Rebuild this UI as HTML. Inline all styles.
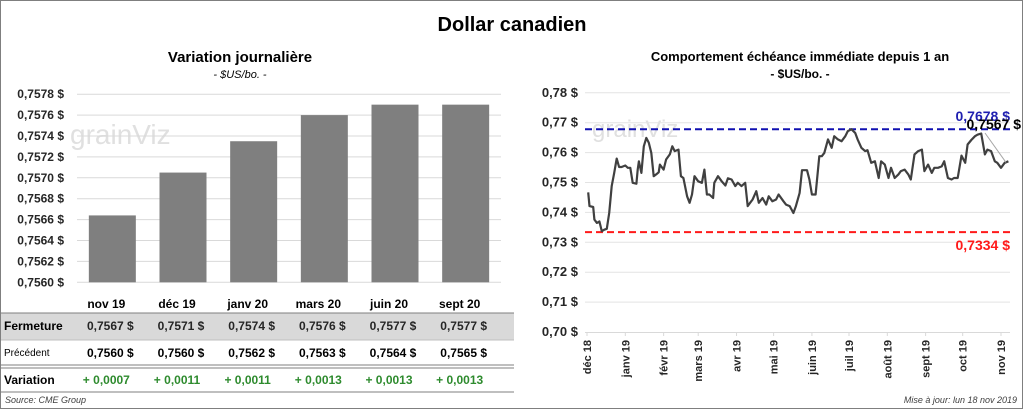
<!DOCTYPE html>
<html><head><meta charset="utf-8"><style>
body{margin:0;background:#fff;font-family:"Liberation Sans",sans-serif}
#wrap{position:relative;width:1024px;height:410px;overflow:hidden}
svg text{font-family:"Liberation Sans",sans-serif}
</style></head><body>
<div id="wrap">
<svg id="svg" width="1024" height="410" viewBox="0 0 1024 410">
<rect x="0.5" y="0.5" width="1022" height="408" fill="#fff" stroke="#7f7f7f"/>
<text x="512" y="31" text-anchor="middle" font-size="20" font-weight="bold" fill="#000">Dollar canadien</text>
<text x="240" y="62" text-anchor="middle" font-size="15" font-weight="bold">Variation  journalière</text>
<text x="240" y="78" text-anchor="middle" font-size="11" font-style="italic">- $US/bo. -</text>
<text x="800" y="61" text-anchor="middle" font-size="13" font-weight="bold">Comportement échéance immédiate depuis 1 an</text>
<text x="800" y="78" text-anchor="middle" font-size="12" font-weight="bold">- $US/bo. -</text>
<text x="70" y="144" font-size="28" fill="#e0e0e0">grainViz</text>
<text x="592" y="137" font-size="24" fill="#e0e0e0">grainViz</text>
<g id="left"></g>
<g id="table"></g>
<g id="right"></g>
<text x="5" y="403" font-size="9" font-style="italic" fill="#404040">Source: CME Group</text>
<text x="1017" y="403" text-anchor="end" font-size="9" font-style="italic" fill="#404040">Mise à jour: lun 18 nov 2019</text>
</svg>
</div>
<script>
const barCats=["nov 19","déc 19","janv 20","mars 20","juin 20","sept 20"];
const barVals=[0.75664,0.75705,0.75735,0.75760,0.75770,0.75770];
const barTicks=[0.7560,0.7562,0.7564,0.7566,0.7568,0.7570,0.7572,0.7574,0.7576,0.7578];
const closeVals=["0,7567","0,7571","0,7574","0,7576","0,7577","0,7577"];
const prevVals=["0,7560","0,7560","0,7562","0,7563","0,7564","0,7565"];
const varVals=["+ 0,0007","+ 0,0011","+ 0,0011","+ 0,0013","+ 0,0013","+ 0,0013"];
const lineDays=[1,2,5,6,8,10,12,14,16,18,20,22,24,26,28,31,33,35,37,40,41,42,44,46,48,50,52,54,56,58,59,62,64,67,69,71,74,76,78,81,83,85,87,90,93,95,97,99,102,103,106,109,112,114,117,120,122,125,128,130,132,134,137,139,142,145,147,150,153,155,159,161,164,167,169,172,174,178,180,182,185,188,190,192,195,198,200,203,206,209,211,214,217,219,222,225,227,230,233,236,238,241,244,246,249,252,254,257,260,262,265,268,271,273,276,279,281,284,287,289,292,295,297,300,303,306,308,311,314,316,319,322,324,327,330,332,335,338,341];
const lineVals=[.7467,.7421,.7418,.7376,.7365,.7370,.7337,.7342,.7345,.7398,.7488,.7532,.7580,.7552,.7552,.7557,.7549,.7549,.7499,.7496,.7543,.7571,.7532,.7621,.7649,.7633,.7599,.7521,.7527,.7534,.7560,.7543,.7577,.7594,.7621,.7605,.7610,.7521,.7515,.7454,.7432,.7460,.7521,.7504,.7499,.7543,.7460,.7460,.7448,.7499,.7521,.7504,.7490,.7514,.7510,.7488,.7499,.7488,.7499,.7421,.7432,.7443,.7471,.7432,.7448,.7426,.7454,.7437,.7443,.7460,.7437,.7426,.7421,.7398,.7421,.7465,.7541,.7541,.7510,.7460,.7460,.7588,.7588,.7599,.7644,.7616,.7655,.7644,.7638,.7655,.7672,.7678,.7666,.7644,.7616,.7605,.7608,.7566,.7571,.7515,.7571,.7560,.7515,.7549,.7515,.7527,.7538,.7543,.7527,.7510,.7594,.7605,.7610,.7538,.7560,.7532,.7549,.7549,.7554,.7571,.7515,.7510,.7515,.7515,.7590,.7566,.7627,.7642,.7655,.7660,.7664,.7594,.7610,.7605,.7571,.7566,.7549,.7566,.7571];
const lineTicks=[0.70,0.71,0.72,0.73,0.74,0.75,0.76,0.77,0.78];
const monthLabels=["déc 18","janv 19","févr 19","mars 19","avr 19","mai 19","juin 19","juil 19","août 19","sept 19","oct 19","nov 19"];
const monthDays=[0,31,62,90,121,151,182,212,243,274,304,335];
const maxVal=0.7678, minVal=0.7334, lastVal=0.7567;

const NS="http://www.w3.org/2000/svg";
function mk(parent,tag,attrs,text){const e=document.createElementNS(NS,tag);for(const k in attrs)e.setAttribute(k,attrs[k]);if(text!==undefined)e.textContent=text;parent.appendChild(e);return e;}
const fmt4=v=>v.toFixed(4).replace('.',',')+' $';
const fmt2=v=>v.toFixed(2).replace('.',',')+' $';

// Bar chart
const L=document.getElementById('left');
const bx0=77,bx1=501,by=v=>282.3-(v-0.7560)/0.0002*20.9;
const bw=(bx1-bx0)/barCats.length;
barTicks.forEach(t=>{
 const g=mk(L,'line',{x1:bx0,x2:bx1,y1:by(t),y2:by(t),stroke:'#d9d9d9','stroke-width':1});
 
 const l=mk(L,'text',{x:64,y:by(t)+4,'text-anchor':'end','font-size':12,'font-weight':'bold',fill:'#262626'},fmt4(t));
 
});
barVals.forEach((v,i)=>{
 const cx=bx0+bw*(i+0.5);
 const r=mk(L,'rect',{x:cx-23.5,y:by(v),width:47,height:by(0.7560)-by(v),fill:'#7f7f7f'});
 
});
// Table
const T=document.getElementById('table');
const tr=mk(T,'rect',{x:1,y:313,width:513,height:27,fill:'#d9d9d9'});

[[313,'#7f7f7f'],[340,'#bfbfbf'],[365,'#7f7f7f'],[368,'#7f7f7f'],[392,'#7f7f7f']].forEach(([y,c])=>{
 const l=mk(T,'line',{x1:1,x2:514,y1:y,y2:y,stroke:c,'stroke-width':1});
 
});
const rowL=[['Fermeture',330,12,'bold'],['Précédent',356,10,'normal'],['Variation',384,12,'bold']];
rowL.forEach(([t,y,fs,fw])=>{const e=mk(T,'text',{x:4,y:y,'font-size':fs,'font-weight':fw},t);
 });
barCats.forEach((c,i)=>{
 const cx=bx0+bw*(i+0.5)-6;
 const h=mk(T,'text',{x:cx,y:308,'text-anchor':'middle','font-size':12,'font-weight':'bold'},c);
 
 const a=mk(T,'text',{x:cx+4,y:330,'text-anchor':'middle','font-size':12,'font-weight':'bold',fill:'#262626','xml:space':'preserve'},closeVals[i]+'  $');
 
 const b=mk(T,'text',{x:cx+4,y:357,'text-anchor':'middle','font-size':12,'font-weight':'bold','xml:space':'preserve'},prevVals[i]+'  $');
 
 const d=mk(T,'text',{x:cx,y:384,'text-anchor':'middle','font-size':12,'font-weight':'bold',fill:'#2e8b2e'},varVals[i]);
 
});
// Line chart
const R=document.getElementById('right');
const rx0=587,rx1=1010,dayPx=(1001-587)/335;
const lx=d=>rx0+d*dayPx, ly=v=>332-(v-0.70)/0.01*29.9;
lineTicks.forEach(t=>{
 if(t>0.70){const g=mk(R,'line',{x1:rx0-2,x2:rx1,y1:ly(t),y2:ly(t),stroke:'#e3e3e3','stroke-width':1});
 }
 const l=mk(R,'text',{x:578,y:ly(t)+4,'text-anchor':'end','font-size':13,'font-weight':'bold',fill:'#262626'},fmt2(t));
 
});
const ax=mk(R,'line',{x1:rx0-2,x2:rx1,y1:332.5,y2:332.5,stroke:'#d9d9d9','stroke-width':1});

monthLabels.forEach((m,i)=>{
 const x=lx(monthDays[i]);
 const tk=mk(R,'line',{x1:x,x2:x,y1:332,y2:336,stroke:'#d9d9d9'});
 
 const t=mk(R,'text',{x:0,y:0,transform:`translate(${x+4},340) rotate(-90)`,'text-anchor':'end','font-size':11,'font-weight':'bold',fill:'#262626'},m);
 
});
const mxl=mk(R,'line',{x1:rx0-2,x2:rx1,y1:ly(maxVal),y2:ly(maxVal),stroke:'#1010b0','stroke-width':2,'stroke-dasharray':'7,4'});

const mnl=mk(R,'line',{x1:rx0-2,x2:rx1,y1:ly(minVal),y2:ly(minVal),stroke:'#ff1a1a','stroke-width':2,'stroke-dasharray':'7,4'});

const pts=lineDays.map((d,i)=>lx(d).toFixed(1)+','+ly(lineVals[i]).toFixed(1)).join(' ');
const pl=mk(R,'polyline',{points:pts,fill:'none',stroke:'#404040','stroke-width':2.2,'stroke-linejoin':'round'});

const ld=mk(R,'line',{x1:985,y1:133,x2:1006,y2:ly(lastVal),stroke:'#a6a6a6','stroke-width':1});

const t1=mk(R,'text',{x:1010,y:121,'text-anchor':'end','font-size':14,'font-weight':'bold',fill:'#1f1fb0'},fmt4(maxVal));

const t2=mk(R,'text',{x:1021,y:129,'text-anchor':'end','font-size':14,'font-weight':'bold',fill:'#000'},fmt4(lastVal));

const t3=mk(R,'text',{x:1010,y:250,'text-anchor':'end','font-size':14,'font-weight':'bold',fill:'#ff1a1a'},fmt4(minVal));

</script>
</body></html>
